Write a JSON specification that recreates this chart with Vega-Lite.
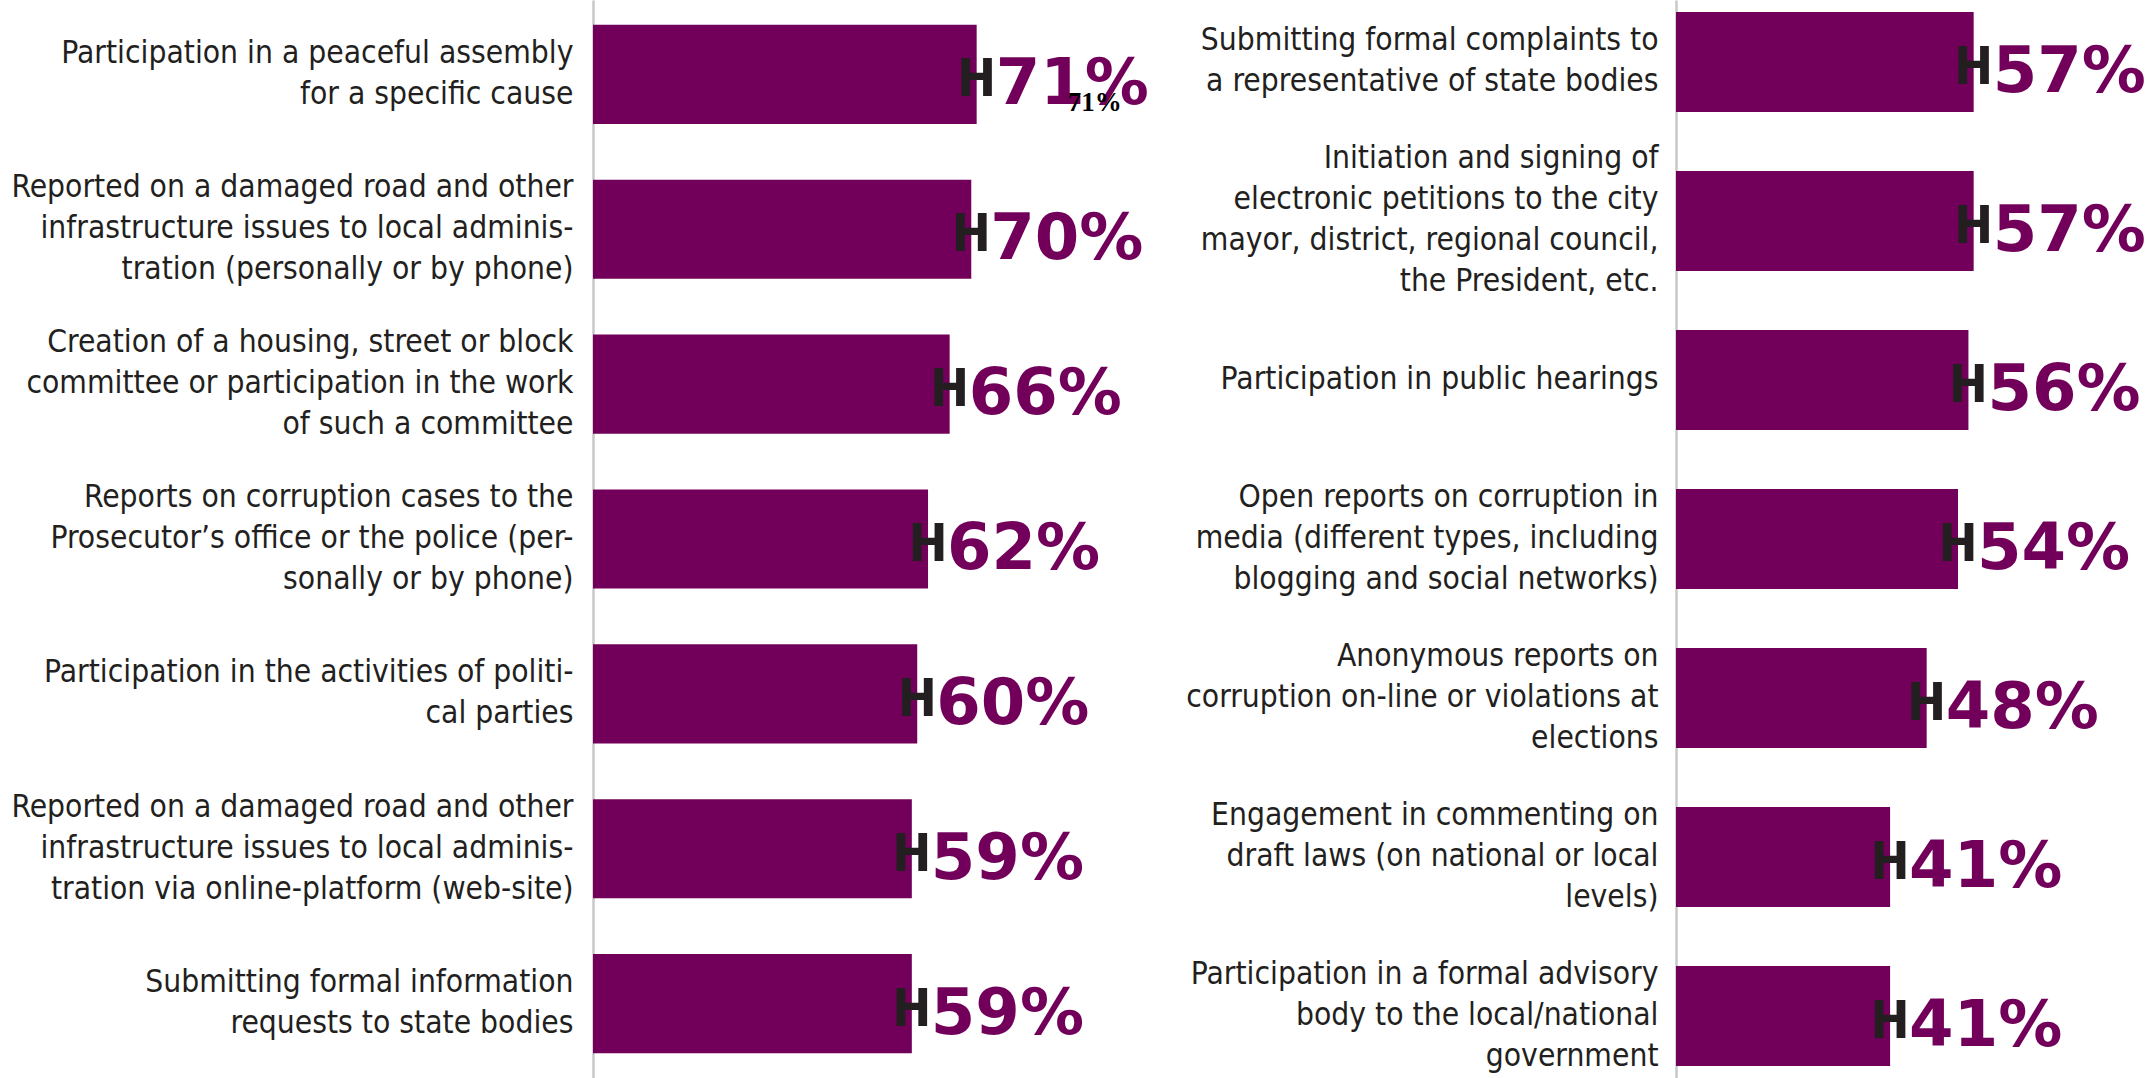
{
  "$schema": "https://vega.github.io/schema/vega-lite/v6.json",
  "padding": 0,
  "background": "white",
  "spacing": 0,
  "config": {"view": {"stroke": null}, "concat": {"spacing": 0}},
  "datasets": {
    "rows": [
      {"panel": "L", "label": "Participation in a peaceful assembly\nfor a specific cause", "value": 0.71},
      {"panel": "L", "label": "Reported on a damaged road and other\ninfrastructure issues to local adminis-\ntration (personally or by phone)", "value": 0.70},
      {"panel": "L", "label": "Creation of a housing, street or block\ncommittee or participation in the work\nof such a committee", "value": 0.66},
      {"panel": "L", "label": "Reports on corruption cases to the\nProsecutor’s office or the police (per-\nsonally or by phone)", "value": 0.62},
      {"panel": "L", "label": "Participation in the activities of politi-\ncal parties", "value": 0.60},
      {"panel": "L", "label": "Reported on a damaged road and other\ninfrastructure issues to local adminis-\ntration via online-platform (web-site)", "value": 0.59},
      {"panel": "L", "label": "Submitting formal information\nrequests to state bodies", "value": 0.59},
      {"panel": "R", "label": "Submitting formal complaints to\na representative of state bodies", "value": 0.57},
      {"panel": "R", "label": "Initiation and signing of\nelectronic petitions to the city\nmayor, district, regional council,\nthe President, etc.", "value": 0.57},
      {"panel": "R", "label": "Participation in public hearings", "value": 0.56},
      {"panel": "R", "label": "Open reports on corruption in\nmedia (different types, including\nblogging and social networks)", "value": 0.54},
      {"panel": "R", "label": "Anonymous reports on\ncorruption on-line or violations at\nelections", "value": 0.48},
      {"panel": "R", "label": "Engagement in commenting on\ndraft laws (on national or local\nlevels)", "value": 0.41},
      {"panel": "R", "label": "Participation in a formal advisory\nbody to the local/national\ngovernment", "value": 0.41}
    ],
    "note": [
      {"label": "Participation in a peaceful assembly\nfor a specific cause", "value": 0.71}
    ]
  },
  "hconcat": [
    {
      "width": 562,
      "height": 1078,
      "data": {"name": "rows"},
      "transform": [{"filter": "datum.panel === 'L'"}],
      "encoding": {
        "y": {
          "field": "label", "type": "nominal", "sort": null,
          "scale": {"paddingInner": 0.36, "paddingOuter": 0.16},
          "axis": {
            "title": null, "ticks": false, "domainColor": "#c8c8c8", "domainWidth": 2.5,
            "labelFont": "DejaVu Sans Condensed, sans-serif",
            "labelFontSize": 31.5, "labelLineHeight": 41, "labelColor": "#231f20",
            "labelPadding": 20, "labelLimit": 600, "minExtent": 593, "maxExtent": 593,
            "labelExpr": "split(datum.value, '\\n')",
            "labelOffset": {
              "condition": [
                {"test": "length(split(datum.value, '\\n')) == 2", "value": -20.5},
                {"test": "length(split(datum.value, '\\n')) == 3", "value": -41},
                {"test": "length(split(datum.value, '\\n')) == 4", "value": -61.5}
              ],
              "value": 0
            }
          }
        },
        "x": {"field": "value", "type": "quantitative", "scale": {"domain": [0, 1.04]}, "axis": null}
      },
      "layer": [
        {"mark": {"type": "bar", "color": "#72005a"}},
        {"mark": {"type": "text", "text": "H", "font": "DejaVu Sans Condensed, sans-serif", "fontWeight": "bold", "fontSize": 52, "color": "#231f20", "align": "center", "baseline": "alphabetic", "dy": 22}},
        {"mark": {"type": "text", "font": "DejaVu Sans", "fontWeight": "bold", "fontSize": 64, "color": "#72005a", "align": "left", "baseline": "alphabetic", "dx": 19, "dy": 30},
         "encoding": {"text": {"field": "value", "type": "quantitative", "format": ".0%"}}},
        {"data": {"name": "note"},
         "mark": {"type": "text", "font": "Liberation Serif", "fontWeight": "bold", "fontSize": 27, "color": "#000000", "align": "center", "baseline": "alphabetic", "dx": 118, "dy": 37},
         "encoding": {"text": {"field": "value", "type": "quantitative", "format": ".0%"}}}
      ]
    },
    {
      "width": 470,
      "height": 1078,
      "data": {"name": "rows"},
      "transform": [{"filter": "datum.panel === 'R'"}],
      "encoding": {
        "y": {
          "field": "label", "type": "nominal", "sort": null,
          "scale": {"paddingInner": 0.371, "paddingOuter": 0.075},
          "axis": {
            "title": null, "ticks": false, "domainColor": "#c8c8c8", "domainWidth": 2.5,
            "labelFont": "DejaVu Sans Condensed, sans-serif",
            "labelFontSize": 31.5, "labelLineHeight": 41, "labelColor": "#231f20",
            "labelPadding": 18, "labelLimit": 520, "minExtent": 521, "maxExtent": 521,
            "labelExpr": "split(datum.value, '\\n')",
            "labelOffset": {
              "condition": [
                {"test": "length(split(datum.value, '\\n')) == 2", "value": -20.5},
                {"test": "length(split(datum.value, '\\n')) == 3", "value": -41},
                {"test": "length(split(datum.value, '\\n')) == 4", "value": -61.5}
              ],
              "value": 0
            }
          }
        },
        "x": {"field": "value", "type": "quantitative", "scale": {"domain": [0, 0.9]}, "axis": null}
      },
      "layer": [
        {"mark": {"type": "bar", "color": "#72005a"}},
        {"mark": {"type": "text", "text": "H", "font": "DejaVu Sans Condensed, sans-serif", "fontWeight": "bold", "fontSize": 52, "color": "#231f20", "align": "center", "baseline": "alphabetic", "dy": 22}},
        {"mark": {"type": "text", "font": "DejaVu Sans", "fontWeight": "bold", "fontSize": 64, "color": "#72005a", "align": "left", "baseline": "alphabetic", "dx": 19, "dy": 30},
         "encoding": {"text": {"field": "value", "type": "quantitative", "format": ".0%"}}}
      ]
    }
  ]
}
